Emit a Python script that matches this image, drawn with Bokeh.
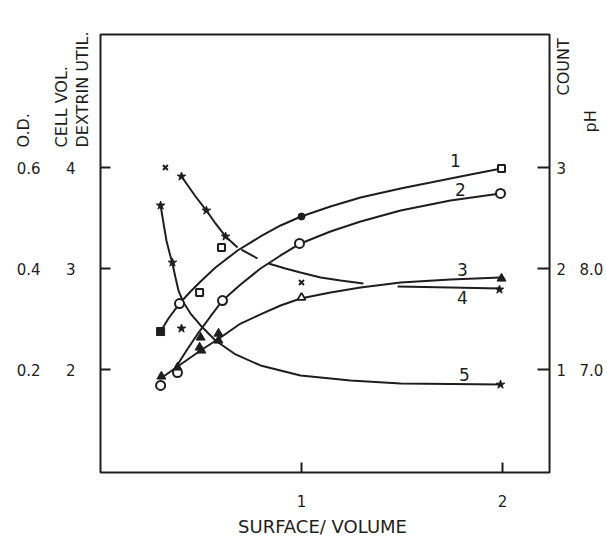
import math
from bokeh.plotting import figure
from bokeh.models import Range1d
from bokeh.core.properties import value
from bokeh.embed import file_html
from bokeh.resources import INLINE

INK = "#1e1e1e"
FONT = "DejaVu Sans"

# ---- data (x = surface/volume, y = cell vol. scale) ----
x_ticks = [1, 2]
x_tick_labels = ["1", "2"]
cell_ticks = [2, 3, 4]
cell_tick_labels = ["2", "3", "4"]
od_ticks = [0.2, 0.4, 0.6]
od_tick_labels = ["0.2", "0.4", "0.6"]
count_ticks = [1, 2, 3]
count_tick_labels = ["1", "2", "3"]
ph_ticks = [7, 8]
ph_tick_labels = ["7.0", "8.0"]

c1_x = [0.299, 0.338, 0.393, 0.448, 0.498, 0.572, 0.682, 0.796, 0.896, 0.998,
        1.144, 1.294, 1.493, 1.692, 1.841, 1.995]
c1_y = [2.376, 2.505, 2.653, 2.772, 2.871, 3.010, 3.178, 3.317, 3.426, 3.515,
        3.614, 3.703, 3.792, 3.871, 3.931, 3.990]

c2_x = [0.368, 0.428, 0.488, 0.547, 0.607, 0.697, 0.796, 0.896, 0.995, 1.144,
        1.294, 1.493, 1.741, 1.990]
c2_y = [2.000, 2.188, 2.366, 2.525, 2.683, 2.842, 3.000, 3.129, 3.248, 3.366,
        3.465, 3.574, 3.673, 3.743]

c3_x = [0.299, 0.398, 0.498, 0.597, 0.697, 0.796, 0.896, 0.995, 1.144, 1.294,
        1.493, 1.741, 1.990]
c3_y = [1.911, 2.050, 2.188, 2.317, 2.455, 2.545, 2.634, 2.703, 2.762, 2.812,
        2.861, 2.891, 2.911]

nan = float("nan")
c4_x = [0.403, 0.438, 0.473, 0.527, 0.572, 0.622, 0.682, nan, 0.701, 0.781, nan,
        0.836, 0.920, 0.995, 1.095, 1.194, 1.308, nan, 1.478, 1.741, 1.990]
c4_y = [3.911, 3.812, 3.713, 3.574, 3.446, 3.317, 3.208, nan, 3.188, 3.099, nan,
        3.050, 3.000, 2.960, 2.911, 2.881, 2.851, nan, 2.822, 2.812, 2.802]

c5_x = [0.299, 0.313, 0.328, 0.343, 0.358, 0.373, 0.388, 0.413, 0.448, 0.498,
        0.572, 0.672, 0.796, 0.995, 1.244, 1.493, 1.990]
c5_y = [3.624, 3.455, 3.277, 3.158, 3.050, 2.911, 2.782, 2.663, 2.554, 2.436,
        2.287, 2.149, 2.040, 1.941, 1.891, 1.861, 1.851]

open_circle_x = [0.299, 0.383, 0.393, 0.607, 0.990, 1.990]
open_circle_y = [1.842, 1.970, 2.653, 2.683, 3.248, 3.743]

filled_square_x = [0.299]
filled_square_y = [2.376]

open_square_x = [0.493, 0.602, 1.995]
open_square_y = [2.762, 3.208, 3.990]

filled_dot_x = [1.0]
filled_dot_y = [3.515]

filled_tri_x = [0.303, 0.383, 0.498, 0.493, 0.502, 0.587, 0.587, 1.995]
filled_tri_y = [1.931, 2.020, 2.317, 2.218, 2.188, 2.356, 2.287, 2.901]

open_tri_x = [1.0]
open_tri_y = [2.713]

star_x = [0.299, 0.358, 0.403, 1.990, 0.403, 0.527, 0.622, 1.985]
star_y = [3.624, 3.059, 2.406, 1.851, 3.911, 3.574, 3.317, 2.792]

xmark_x = [0.323, 1.0]
xmark_y = [4.0, 2.861]

curve_labels = ["1", "2", "3", "4", "5"]
curve_label_x = [1.766, 1.79, 1.80, 1.80, 1.81]
curve_label_y = [4.07, 3.78, 2.99, 2.71, 1.95]

# ---- layout: the plotting box inside a full-canvas frame ----
W, H = 607, 538
PX_PER_X, PX_PER_Y = 201.0, 101.0        # pixels per data unit
X_AT0, Y4_AT = 100.0, 167.0               # pixel of x=0 and of y=4
BOX_X0, BOX_X1 = 0.0, 2.234
BOX_Y0, BOX_Y1 = 0.98, 5.317


def dx(px):
    return (px - X_AT0) / PX_PER_X


def dy(py):
    return 4 - (py - Y4_AT) / PX_PER_Y


p = figure(width=W, height=H, output_backend="svg", toolbar_location=None,
           x_range=Range1d(dx(0), dx(W)), y_range=Range1d(dy(H), dy(0)),
           x_axis_location=None, y_axis_location=None,
           min_border=0, min_border_left=0, min_border_right=0,
           min_border_top=0, min_border_bottom=0)
p.title.visible = False
p.xgrid.grid_line_color = None
p.ygrid.grid_line_color = None
p.outline_line_color = None
p.background_fill_color = "white"
p.border_fill_color = "white"

# plotting box
p.quad(left=[BOX_X0], right=[BOX_X1], bottom=[BOX_Y0], top=[BOX_Y1],
       fill_color=None, line_color=INK, line_width=2)

# inward ticks: one broken polyline, each tick a short run from the box edge
hx = 1 / PX_PER_X            # one pixel in x data units
hy = 1 / PX_PER_Y            # one pixel in y data units
count_y = [c + 1 for c in count_ticks]          # count scale -> cell vol. scale
tick_x, tick_y = [], []
for t in cell_ticks:
    tick_x += [BOX_X0, BOX_X0 + 10 * hx, nan]
    tick_y += [t, t, nan]
for t in count_y:
    tick_x += [BOX_X1, BOX_X1 - 12 * hx, nan]
    tick_y += [t, t, nan]
for t in x_ticks:
    tick_x += [t, t, nan]
    tick_y += [BOX_Y0, BOX_Y0 + 10 * hy, nan]
p.line(tick_x, tick_y, line_color=INK, line_width=2)

tick_font = dict(text_font=value(FONT), text_font_size="15px", text_color=INK,
                 text_baseline="middle")

# left scales
p.text([dx(75)] * 3, cell_ticks, text=cell_tick_labels, text_align="right", **tick_font)
od_y = [v * 5 + 1 for v in od_ticks]            # O.D. scale -> cell vol. scale
p.text([dx(40)] * 3, od_y, text=od_tick_labels, text_align="right", **tick_font)
# right scales
p.text([dx(556)] * 3, count_y, text=count_tick_labels, text_align="left", **tick_font)
ph_y = [v - 5 for v in ph_ticks]                # pH scale -> cell vol. scale
p.text([dx(579)] * 2, ph_y, text=ph_tick_labels, text_align="left", **tick_font)
# bottom scale
p.text(x_ticks, [dy(500)] * 2, text=x_tick_labels, text_align="center", **tick_font)
p.text([dx(322)], [dy(526)], text=["SURFACE/ VOLUME"], text_align="center",
       text_font=value(FONT), text_font_size="18px", text_color=INK,
       text_baseline="middle")

# rotated scale titles
titles = ["O.D.", "CELL VOL.", "DEXTRIN UTIL.", "COUNT", "pH"]
title_px = [23, 61, 82, 563, 590]
title_py = [147, 147, 147, 95, 132]
p.text([dx(v) for v in title_px], [dy(v) for v in title_py], text=titles,
       angle=math.pi / 2, text_align="left", text_baseline="middle",
       text_font=value(FONT), text_font_size="16px", text_color=INK)

# curves
for cx, cy in [(c1_x, c1_y), (c2_x, c2_y), (c3_x, c3_y), (c4_x, c4_y), (c5_x, c5_y)]:
    p.line(cx, cy, line_color=INK, line_width=2)

# markers
p.scatter(open_circle_x, open_circle_y, marker="circle", size=9,
          fill_color="white", line_color=INK, line_width=2)
p.scatter(filled_square_x, filled_square_y, marker="square", size=8,
          fill_color=INK, line_color=INK)
p.scatter(open_square_x, open_square_y, marker="square", size=7,
          fill_color="white", line_color=INK, line_width=2)
p.scatter(filled_dot_x, filled_dot_y, marker="circle", size=7,
          fill_color=INK, line_color=INK)
p.scatter(filled_tri_x, filled_tri_y, marker="triangle", size=9,
          fill_color=INK, line_color=INK)
p.scatter(open_tri_x, open_tri_y, marker="triangle", size=8,
          fill_color="white", line_color=INK, line_width=1.8)
p.scatter(star_x, star_y, marker="star", size=9,
          fill_color=INK, line_color=INK)
p.scatter(xmark_x, xmark_y, marker="x", size=7, line_color=INK, line_width=2)

# curve numbers
p.text(curve_label_x, curve_label_y, text=curve_labels,
       text_font=value(FONT), text_font_size="17px", text_color=INK,
       text_align="center", text_baseline="middle")

open("out.html", "w").write(file_html(p, INLINE))
